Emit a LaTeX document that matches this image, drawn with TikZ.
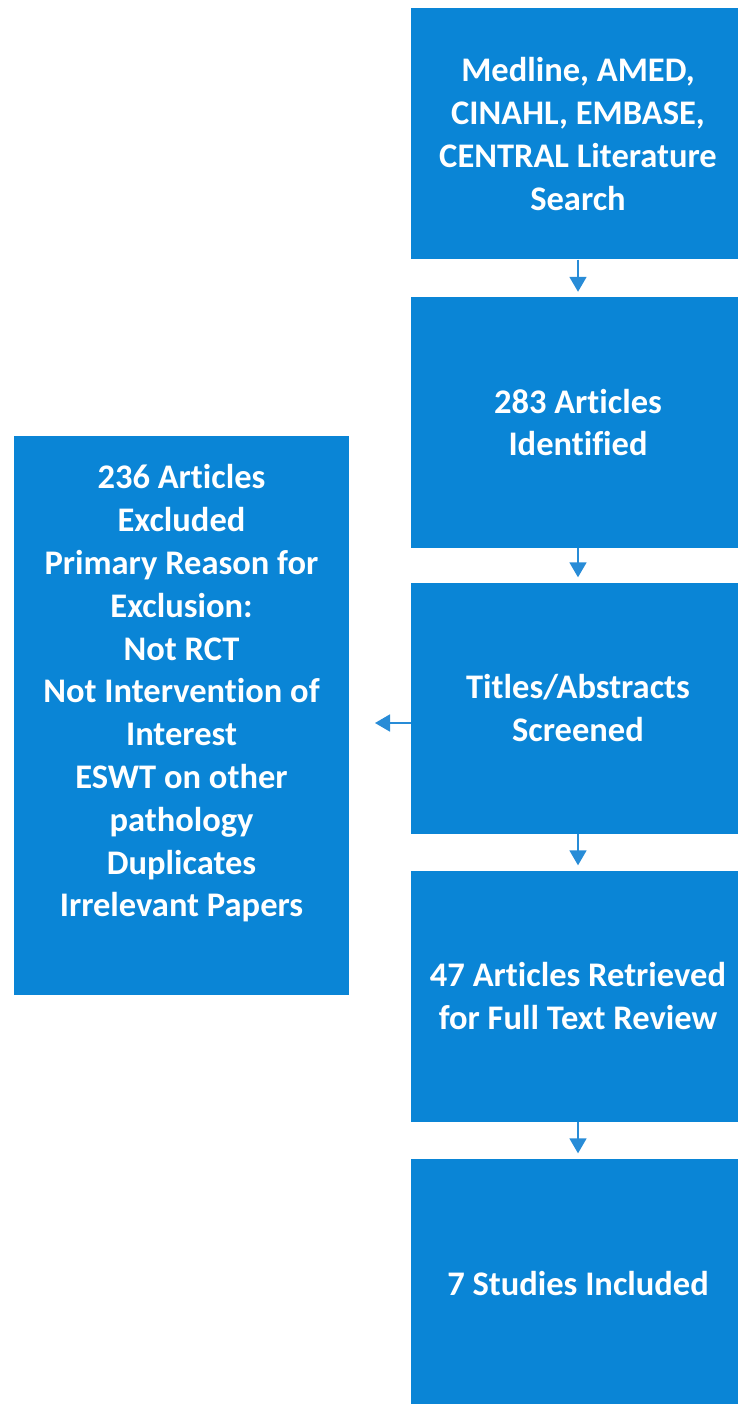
\documentclass[tikz,border=0pt]{standalone}
\usepackage{fontspec}
\setmainfont{Carlito}[Ligatures=NoCommon]
\usetikzlibrary{arrows.meta}
\definecolor{boxblue}{RGB}{10,133,214}
\definecolor{arrowblue}{RGB}{40,140,215}
\begin{document}
\begin{tikzpicture}[x=1pt,y=-1pt,
  box/.style={fill=boxblue, draw=none, minimum width=334pt, minimum height=251pt, inner sep=0pt},
  txt/.style={text=white, align=center, font=\fontsize{34.5}{42.8}\selectfont\bfseries, inner sep=0pt},
  arr/.style={draw=arrowblue, line width=1.8pt, -{Triangle[length=15pt,width=17pt]}, shorten >=5pt}]
\useasboundingbox (0,0) rectangle (738,1404);
\clip (0,0) rectangle (738,1404);
\node[box] (b1) at (578,134) {};
\node[txt] (t1) at (b1.center) {Medline, AMED,\\CINAHL, EMBASE,\\CENTRAL Literature\\Search};
\node[box] (b2) at (578,422.5) {};
\node[txt] (t2) at (b2.center) {283 Articles\\Identified};
\node[box] (b3) at (578,708) {};
\node[txt] (t3) at (b3.center) {Titles/Abstracts\\Screened};
\node[box] (b4) at (578,996) {};
\node[txt] (t4) at (b4.center) {47 Articles Retrieved\\for Full Text Review};
\node[box] (b5) at (578,1284) {};
\node[txt] (t5) at (b5.center) {7 Studies Included};
\node[box, minimum width=335pt, minimum height=559pt] (ex) at (181.5,715.5) {};
\node[txt] (ext) at (181.5,693.5) {236 Articles\\Excluded\\Primary Reason for\\Exclusion:\\Not RCT\\Not Intervention of\\Interest\\ESWT on other\\pathology\\Duplicates\\Irrelevant Papers};
\draw[arr] (b1) -- (b2);
\draw[arr] (b2) -- (b3);
\draw[arr] (b3) -- (b4);
\draw[arr] (b4) -- (b5);
\coordinate (extip) at (375,723);
\draw[arr, shorten >=0pt] (b3.west |- extip) -- (extip);
\end{tikzpicture}
\end{document}
